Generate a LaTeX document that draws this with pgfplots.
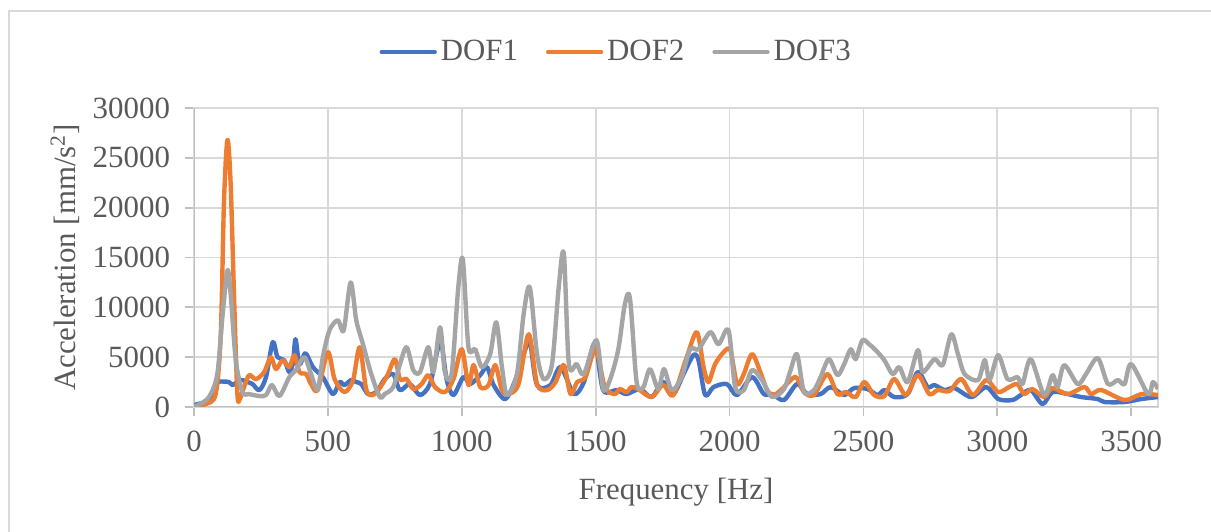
\documentclass[border=0pt]{standalone}
\usepackage{fontspec}
\setmainfont{Liberation Serif}
\usepackage{pgfplots}
\pgfplotsset{compat=1.18}

\definecolor{dofblue}{HTML}{4472C4}
\definecolor{doforange}{HTML}{ED7D31}
\definecolor{dofgray}{HTML}{A5A5A5}
\definecolor{gridc}{HTML}{D9D9D9}
\definecolor{axisc}{HTML}{BFBFBF}
\definecolor{textc}{HTML}{595959}

\begin{document}
\begin{tikzpicture}
\useasboundingbox (0,0) rectangle (605.5bp,266bp);
\draw[gridc, line width=0.9bp] (4.5bp,-2bp) -- (4.5bp,260.5bp) -- (608bp,260.5bp);
\begin{axis}[
  at={(97bp,62.5bp)}, anchor=south west,
  scale only axis, width=482bp, height=149.5bp,
  xmin=0, xmax=3600, ymin=0, ymax=30000,
  scaled x ticks=false, scaled y ticks=false,
  font=\fontsize{15.5}{18}\selectfont, /pgf/number format/assume math mode=true,
  xtick={0,500,...,3500}, xticklabels={0,500,1000,1500,2000,2500,3000,3500},
  ytick={0,5000,...,30000}, yticklabels={0,5000,10000,15000,20000,25000,30000},
  tick align=outside, major tick length=4.5bp,
  tick style={axisc, line width=0.9bp},
  xtick pos=bottom, ytick pos=left,
  xticklabel style={textc, yshift=-4bp},
  yticklabel style={textc, xshift=-4bp},
  grid=major, major grid style={gridc, line width=0.9bp},
  axis line style={gridc, line width=0.9bp},
  xlabel={Frequency [Hz]}, ylabel={Acceleration [mm/s\textsuperscript{2}]},
  every axis x label/.style={at={(axis description cs:0.5,-0.284)}, anchor=center, textc},
  every axis y label/.style={at={(axis description cs:-0.1338,0.5)}, anchor=center, rotate=90, textc},
  legend columns=3,
  legend style={at={(0.439,1.187)}, anchor=center, draw=none, fill=none, text=textc,
    /tikz/every even column/.append style={column sep=12bp}},
  legend image code/.code={\draw[#1, line width=1.6bp, line cap=round] (0bp,0bp) -- (27bp,0bp);},
  every axis plot/.append style={line width=2.2bp, smooth, tension=0.5, line join=round},
  clip=true,
]
\draw[axisc, line width=0.9bp] (axis cs:0,0) -- (axis cs:0,30000);
\draw[axisc, line width=0.9bp] (axis cs:0,0) -- (axis cs:3600,0);
\addplot[dofblue] coordinates {
(0,200) (30,400) (60,700) (75,1800) (90,2500) (110,2550) (131,2500) (144,2200) (160,2500)
(181,2700) (200,2500) (219,2300) (244,1700) (269,3000) (294,6500) (312,5000) (337,4700)
(356,3500) (370,4500) (379,6800) (394,4300) (416,5400) (444,4000) (481,3000) (519,1300)
(544,2500) (562,2200) (587,2700) (606,2500) (625,2300) (650,1300) (681,1500) (712,2800)
(744,3300) (769,1700) (806,2300) (844,1200) (881,2300) (906,5300) (922,6700) (944,2700)
(969,1200) (1006,3000) (1031,2300) (1069,3200) (1094,4000) (1119,2200) (1162,800) (1200,2700)
(1244,6300) (1256,6400) (1281,2200) (1331,2200) (1369,4000) (1419,1300) (1456,2500) (1478,5000)
(1500,6300) (1528,1700) (1578,1700) (1615,1300) (1665,1800) (1709,1000) (1752,2500) (1790,1300)
(1828,3300) (1865,5200) (1884,4700) (1909,1200) (1940,2000) (1990,2300) (2028,1200) (2084,3000)
(2128,1300) (2159,1300) (2203,700) (2252,2300) (2290,1300) (2340,1300) (2378,2000) (2428,1200)
(2465,1900) (2515,1800) (2553,1200) (2578,1700) (2615,1000) (2665,1300) (2703,3500) (2740,2000)
(2765,2200) (2803,1700) (2840,1900) (2903,1000) (2959,2000) (3003,800) (3056,700) (3088,1200)
(3125,1700) (3169,300) (3206,1500) (3263,1300) (3313,1000) (3375,800) (3400,500) (3475,500)
(3538,800) (3600,1000)
};
\addlegendentry{DOF1}
\addplot[doforange] coordinates {
(0,0) (44,300) (81,1300) (100,7300) (112,20600) (125,26800) (137,22300) (150,10700) (162,1300)
(171,800) (187,2000) (206,3200) (231,2800) (262,3500) (287,5000) (306,3800) (331,4700)
(356,4000) (375,5200) (394,3500) (419,3300) (437,2300) (462,1700) (500,5500) (525,2800)
(562,1500) (594,2700) (619,6000) (644,1700) (675,1300) (719,3000) (750,4800) (769,2800)
(794,2800) (819,1800) (850,2300) (875,3200) (900,2000) (937,1500) (969,2800) (1000,5800)
(1025,2200) (1044,4200) (1069,2000) (1100,2200) (1125,4200) (1150,1700) (1175,1300) (1212,2300)
(1250,7300) (1281,2300) (1319,1700) (1350,2500) (1381,4200) (1406,1300) (1431,2500) (1462,3000)
(1500,5800) (1534,2000) (1571,1300) (1590,1800) (1615,1500) (1634,2000) (1659,1800) (1709,1000)
(1752,2200) (1790,1200) (1840,5000) (1878,7500) (1903,4000) (1921,2500) (1946,4300) (1978,5500)
(2003,5700) (2028,2300) (2053,3300) (2084,5300) (2115,3500) (2140,1700) (2165,1200) (2196,1800)
(2246,3000) (2278,1500) (2315,1200) (2365,3300) (2403,1300) (2434,1500) (2471,1000) (2503,2500)
(2540,1200) (2578,1100) (2615,2800) (2659,1200) (2703,3200) (2746,1300) (2778,1700) (2821,1600)
(2865,2800) (2909,1200) (2959,2700) (3003,1500) (3044,2000) (3075,2300) (3100,1300) (3131,1800)
(3175,1000) (3206,1900) (3263,1300) (3325,2000) (3350,1300) (3388,1700) (3475,700) (3538,1300)
(3600,1200)
};
\addlegendentry{DOF2}
\addplot[dofgray] coordinates {
(0,100) (12,150) (56,1000) (87,3300) (106,9000) (125,13700) (137,11300) (156,4700) (181,1500)
(206,1300) (244,1100) (269,1200) (291,2200) (319,1100) (356,3000) (381,3700) (412,5000)
(437,3300) (462,1700) (481,5000) (506,7700) (537,8700) (559,7700) (585,12500) (606,8700)
(631,6300) (662,3300) (694,1000) (712,1300) (744,2000) (769,4300) (794,6000) (819,3700)
(844,3500) (875,6000) (894,3500) (919,8000) (937,3500) (962,3300) (987,12000) (1004,14800)
(1025,6000) (1050,5800) (1075,4000) (1106,5300) (1129,8500) (1150,4000) (1169,1200) (1206,3300)
(1231,9300) (1254,12000) (1281,5300) (1306,2800) (1337,4300) (1362,12000) (1381,15400) (1400,4300)
(1429,4300) (1456,3300) (1503,6700) (1528,1800) (1553,2700) (1584,5700) (1609,10300) (1628,10900)
(1653,2500) (1678,2000) (1703,3800) (1734,1800) (1755,3800) (1784,1700) (1821,3000) (1853,5800)
(1884,5800) (1928,7500) (1959,6300) (1996,7700) (2021,2000) (2053,1700) (2084,3700) (2121,2700)
(2159,1000) (2203,1800) (2228,3700) (2252,5300) (2278,1500) (2315,1700) (2340,3000) (2371,4800)
(2403,3200) (2428,4300) (2453,5800) (2471,4800) (2496,6700) (2521,6300) (2546,5700) (2578,4700)
(2609,3300) (2634,4000) (2665,2500) (2703,5700) (2721,3500) (2765,4800) (2796,4200) (2828,7300)
(2853,5300) (2878,3300) (2928,2700) (2953,4700) (2971,2700) (3003,5200) (3038,2800) (3075,3000)
(3094,2300) (3125,4800) (3175,1200) (3206,3200) (3225,2000) (3250,4200) (3300,2300) (3331,3300)
(3375,4900) (3413,2300) (3450,2700) (3475,2300) (3500,4300) (3563,1300) (3581,2500) (3600,1800)
};
\addlegendentry{DOF3}
\end{axis}
\end{tikzpicture}
\end{document}
